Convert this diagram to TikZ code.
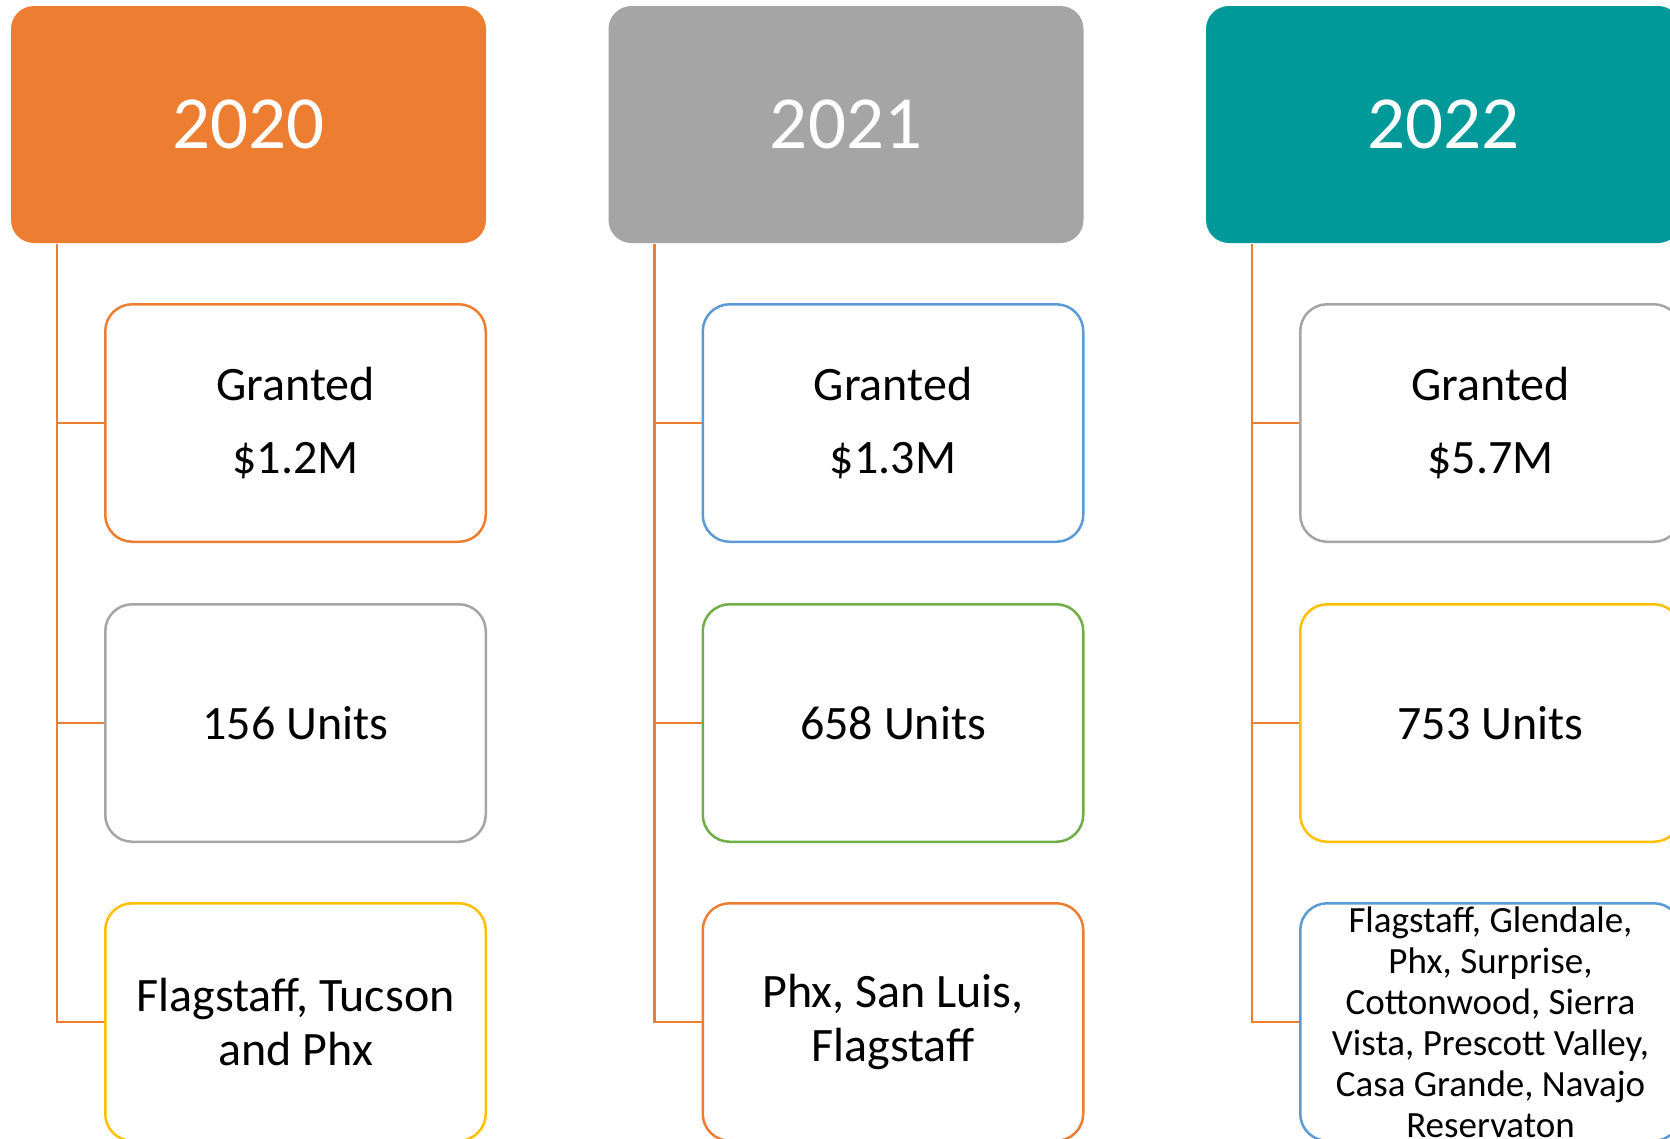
\documentclass[tikz,border=0pt]{standalone}
\usepackage{fontspec}
\setmainfont{Carlito}
\definecolor{cOrange}{HTML}{ED7D31}
\definecolor{cGray}{HTML}{A5A5A5}
\definecolor{cTeal}{RGB}{0,153,153}
\definecolor{cGold}{HTML}{FFC000}
\definecolor{cBlue}{HTML}{5B9BD5}
\definecolor{cGreen}{HTML}{70AD47}
\tikzset{
  header/.style={fill=#1, rounded corners=23pt, minimum width=475pt, minimum height=237pt,
    inner sep=0pt, text=white, font=\fontsize{75}{90}\selectfont},
  itembox/.style={draw=#1, line width=2.5pt, rounded corners=27pt, minimum width=380.5pt,
    minimum height=237.5pt, inner sep=0pt, align=center, text=black,
    font=\fontsize{48}{54}\selectfont},
  smalltext/.style={font=\fontsize{37}{41}\selectfont},
  conn/.style={draw=cOrange, line width=2.5pt},
}
\begin{document}
\begin{tikzpicture}[x=1pt,y=-1pt]
\useasboundingbox (0,0) rectangle (1670,1138);
\clip (0,0) rectangle (1670,1138);
% column 1
\node[header=cOrange] (h1) at (248.5,124.5) {2020};
\node[itembox=cOrange] (b11) at (295.5,423) {Granted\\[19pt]\$1.2M};
\node[itembox=cGray] (b12) at (295.5,723) {156 Units};
\node[itembox=cGold] (b13) at (295.5,1022) {Flagstaff, Tucson\\and Phx};
\coordinate (s1) at (57,244);
\draw[conn] (s1) |- (b13.west);
\draw[conn] (s1 |- b11.west) -- (b11.west);
\draw[conn] (s1 |- b12.west) -- (b12.west);
% column 2
\node[header=cGray] (h2) at (846,124.5) {2021};
\node[itembox=cBlue] (b21) at (893,423) {Granted\\[19pt]\$1.3M};
\node[itembox=cGreen] (b22) at (893,723) {658 Units};
\node[itembox=cOrange] (b23) at (893,1022) {Phx, San Luis,\\Flagstaff};
\coordinate (s2) at (654.5,244);
\draw[conn] (s2) |- (b23.west);
\draw[conn] (s2 |- b21.west) -- (b21.west);
\draw[conn] (s2 |- b22.west) -- (b22.west);
% column 3
\node[header=cTeal] (h3) at (1443.5,124.5) {2022};
\node[itembox=cGray] (b31) at (1490.5,423) {Granted\\[19pt]\$5.7M};
\node[itembox=cGold] (b32) at (1490.5,723) {753 Units};
\node[itembox=cBlue, smalltext] (b33) at (1490.5,1022) {Flagstaff, Glendale,\\Phx, Surprise,\\Cottonwood, Sierra\\Vista, Prescott Valley,\\Casa Grande, Navajo\\Reservaton};
\coordinate (s3) at (1252,244);
\draw[conn] (s3) |- (b33.west);
\draw[conn] (s3 |- b31.west) -- (b31.west);
\draw[conn] (s3 |- b32.west) -- (b32.west);
\end{tikzpicture}
\end{document}
